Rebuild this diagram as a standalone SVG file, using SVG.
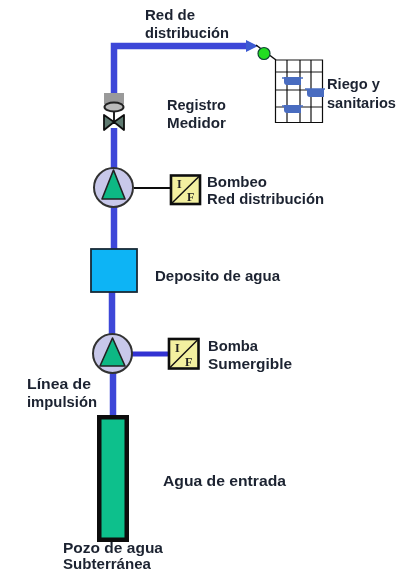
<svg xmlns="http://www.w3.org/2000/svg" width="397" height="572" viewBox="0 0 397 572">
<style>
text{font-family:"Liberation Sans",Arial,sans-serif;font-size:15px;font-weight:700;fill:#1c2430}
.pipe{fill:none;stroke:#3c46d8;stroke-width:6.5}
.thin{fill:none;stroke:#111;stroke-width:1.5}
.grid{fill:none;stroke:#111;stroke-width:1.2}
.pot{fill:#4a6cc0}
.disc{fill:#c8c8ea;stroke:#333;stroke-width:2}
.tri{fill:#10b884;stroke:#222;stroke-width:1.6;stroke-linejoin:round}
.vfd{fill:#f3f0a0;stroke:#111;stroke-width:2.6}
text.vt{font-family:"Liberation Serif",serif;font-size:12px;fill:#222}
</style>
<defs><filter id="soft" x="0" y="0" width="100%" height="100%"><feGaussianBlur stdDeviation="0.4"/></filter></defs>
<g filter="url(#soft)">
<g id="connectors">
<path class="pipe" d="M114 94V46H247"/>
<path d="M246 40L258 46L246 52Z" fill="#3c5ad2"/>
<path class="thin" d="M256 45L276 60"/>
<path class="pipe" d="M114 128V170"/>
<path class="pipe" d="M114 206V249"/>
<path class="pipe" d="M112 291V337"/>
<path class="pipe" d="M113 373V416"/>
<path d="M134 188H170" stroke="#111" stroke-width="2" fill="none"/>
<path d="M131 354H168" stroke="#3232d2" stroke-width="5" fill="none"/>
</g>
<g id="valve">
<rect x="104" y="93" width="20" height="11" fill="#9a9a9a"/>
<ellipse cx="114" cy="107" rx="9.500" ry="4.500" fill="#bbb" stroke="#222" stroke-width="2"/>
<path d="M114 111V122" stroke="#222" stroke-width="2"/>
<path d="M104 115L114 122L104 130ZM124 115L114 122L124 130Z" fill="#5f7a70" stroke="#111" stroke-width="1.800" stroke-linejoin="round"/>
</g>
<g id="pump-top">
<circle class="disc" cx="113.500" cy="187.500" r="19.500"/>
<path class="tri" d="M113.500 170L125 199H102Z"/>
</g>
<g id="vfd-top">
<rect class="vfd" x="171" y="175.500" width="29" height="28.500"/>
<path d="M171 204L200 175.500" stroke="#111" stroke-width="1.500"/>
<text class="vt" x="177" y="188">I</text><text class="vt" x="187" y="201">F</text>
</g>
<g id="tank"><rect x="91" y="249" width="46" height="43" fill="#0ab4f5" stroke="#1a2a38" stroke-width="1.800"/></g>
<g id="pump-bottom">
<circle class="disc" cx="112.500" cy="353.500" r="19.500"/>
<path class="tri" d="M112.500 338L125 366H100Z"/>
</g>
<g id="vfd-bottom">
<rect class="vfd" x="169" y="339" width="29.500" height="29.500"/>
<path d="M169 368.500L198.500 339" stroke="#111" stroke-width="1.500"/>
<text class="vt" x="175" y="352">I</text><text class="vt" x="185" y="366">F</text>
</g>
<g id="well"><rect x="99.250" y="417.250" width="27.500" height="122.500" fill="#0cc08c" stroke="#0a0a0a" stroke-width="4.500"/></g>
<g id="junction"><circle cx="264" cy="53.500" r="6" fill="#22dd22" stroke="#143" stroke-width="1.200"/></g>
<g id="grid">
<path class="grid" d="M275.500 60H322.500V122.500H275.500ZM287 60V122.500M300 60V122.500M311 60V122.500M275.500 72H322.500M275.500 90H322.500M275.500 107H322.500"/>
<path class="pot" d="M284 77h17v8h-14q-3 0-3-3ZM307 89h17v8h-14q-3 0-3-3ZM284 105h17v8h-14q-3 0-3-3Z"/>
<path d="M282 78H303M305 89H325M282 106H303" stroke="#4a6cc0" stroke-width="1.500"/>
</g>
<g id="labels">
<text x="145" y="20" textLength="50" lengthAdjust="spacingAndGlyphs">Red de</text>
<text x="145" y="38" textLength="84" lengthAdjust="spacingAndGlyphs">distribución</text>
<text x="327" y="89" textLength="53" lengthAdjust="spacingAndGlyphs">Riego y</text>
<text x="327" y="108" textLength="69" lengthAdjust="spacingAndGlyphs">sanitarios</text>
<text x="167" y="110" textLength="59" lengthAdjust="spacingAndGlyphs">Registro</text>
<text x="167" y="128" textLength="59" lengthAdjust="spacingAndGlyphs">Medidor</text>
<text x="207" y="187" textLength="60" lengthAdjust="spacingAndGlyphs">Bombeo</text>
<text x="207" y="204" textLength="117" lengthAdjust="spacingAndGlyphs">Red distribución</text>
<text x="155" y="281" textLength="125" lengthAdjust="spacingAndGlyphs">Deposito de agua</text>
<text x="208" y="351" textLength="50" lengthAdjust="spacingAndGlyphs">Bomba</text>
<text x="208" y="369" textLength="84" lengthAdjust="spacingAndGlyphs">Sumergible</text>
<text x="27" y="389" textLength="64" lengthAdjust="spacingAndGlyphs">Línea de</text>
<text x="27" y="407" textLength="70" lengthAdjust="spacingAndGlyphs">impulsión</text>
<text x="163" y="486" textLength="123" lengthAdjust="spacingAndGlyphs">Agua de entrada</text>
<text x="63" y="553" textLength="100" lengthAdjust="spacingAndGlyphs">Pozo de agua</text>
<text x="63" y="569" textLength="88" lengthAdjust="spacingAndGlyphs">Subterránea</text>
</g>
</g>
</svg>
